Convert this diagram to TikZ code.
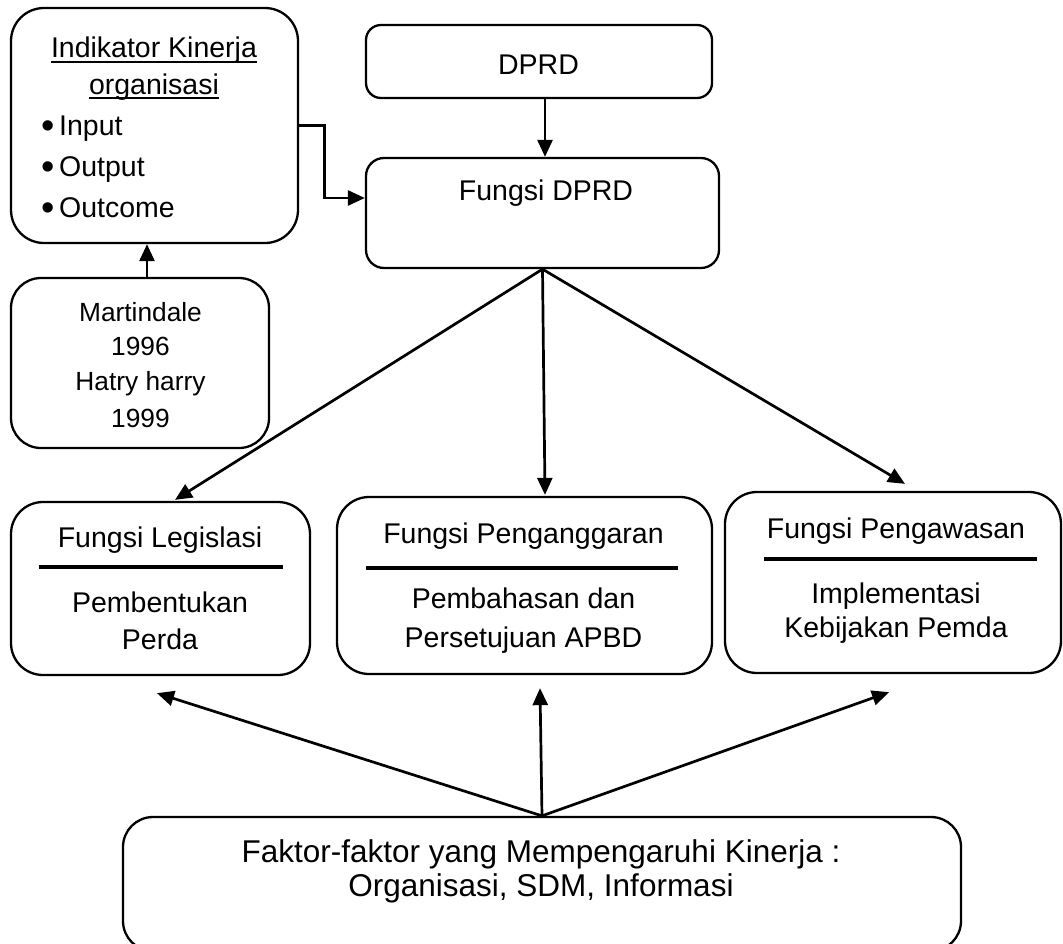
\documentclass[tikz,border=0pt]{standalone}
\usepackage{fontspec}
\setmainfont{Liberation Sans}
\usetikzlibrary{arrows.meta,calc}
\tikzset{
  box/.style={draw, line width=2.3pt, rectangle, inner sep=0pt},
  txt/.style={inner sep=0pt, anchor=base, font=\fontsize{28.5}{34}\selectfont},
  stxt/.style={inner sep=0pt, anchor=base, font=\fontsize{26.3}{32}\selectfont},
  btxt/.style={inner sep=0pt, anchor=base, font=\fontsize{31.5}{38}\selectfont},
  bul/.style={inner sep=0pt, anchor=base, font=\fontsize{38}{40}\selectfont},
  arr/.style={line width=2.7pt, -{Triangle[length=17pt,width=15pt]}},
  sepline/.style={line width=4.5pt},
  uline/.style={line width=2.2pt}
}
\begin{document}
\begin{tikzpicture}[x=1pt, y=-1pt]
\useasboundingbox (0,0) rectangle (1063,943);

% boxes
\node[box, rounded corners=33pt, minimum width=287pt, minimum height=235pt] (ind) at (154.5,125.5) {};
\node[box, rounded corners=30pt, minimum width=258pt, minimum height=170pt] (mart) at (140,363) {};
\node[box, rounded corners=15pt, minimum width=346pt, minimum height=73pt] (dprd) at (539,61.5) {};
\node[box, rounded corners=18pt, minimum width=353pt, minimum height=110pt] (fdprd) at (542.5,213) {};
\node[box, rounded corners=32pt, minimum width=299pt, minimum height=173pt] (leg) at (160.5,588.5) {};
\node[box, rounded corners=32pt, minimum width=375pt, minimum height=177pt] (ang) at (524.5,585.5) {};
\node[box, rounded corners=32pt, minimum width=336pt, minimum height=181pt] (awas) at (893,582.5) {};
\node[box, rounded corners=30pt, minimum width=838pt, minimum height=134pt] (fak) at (542,884) {};

% texts: Indikator
\node[txt] (t1) at (154,57) {Indikator Kinerja};
\node[txt] (t2) at (154,94) {organisasi};
\draw[uline] ([yshift=-5pt]t1.base west) -- ([yshift=-5pt]t1.base east);
\draw[uline] ([yshift=-4pt]t2.base west) -- ([yshift=-4pt]t2.base east);
\node[bul] (b1) at (48,138) {\textbullet};
\node[bul] (b2) at (48,179) {\textbullet};
\node[bul] (b3) at (48,220) {\textbullet};
\node[txt, anchor=base west] (i1) at (59,135) {Input};
\node[txt, anchor=base west] (i2) at (59,176) {Output};
\node[txt, anchor=base west] (i3) at (59,217) {Outcome};

% Martindale
\node[stxt] (m1) at (140.5,321) {Martindale};
\node[stxt] (m2) at (140.5,355) {1996};
\node[stxt] (m3) at (140.5,390) {Hatry harry};
\node[stxt] (m4) at (140.5,427) {1999};

% DPRD
\node[txt] (d1) at (538.5,74) {DPRD};
\node[txt] (d2) at (546,200) {Fungsi DPRD};

% Legislasi
\node[txt] (l1) at (160,547) {Fungsi Legislasi};
\draw[sepline] (39,567) -- (283,567);
\node[txt] (l2) at (160,612) {Pembentukan};
\node[txt] (l3) at (160,649) {Perda};

% Penganggaran
\node[txt] (a1) at (523.5,543) {Fungsi Penganggaran};
\draw[sepline] (366,568) -- (678,568);
\node[txt] (a2) at (523.5,608) {Pembahasan dan};
\node[txt] (a3) at (523.5,647) {Persetujuan APBD};

% Pengawasan
\node[txt] (w1) at (896,538) {Fungsi Pengawasan};
\draw[sepline] (764,559) -- (1037,559);
\node[txt] (w2) at (896,603) {Implementasi};
\node[txt] (w3) at (896,637) {Kebijakan Pemda};

% Faktor
\node[btxt] (f1) at (541,862) {Faktor-faktor yang Mempengaruhi Kinerja :};
\node[btxt] (f2) at (541,896) {Organisasi, SDM, Informasi};

% connectors
\draw[arr] (ind.east) -- ++(25,0) |- ([yshift=15pt]fdprd.west);
\draw[arr] ([xshift=7pt]mart.north) -- ([xshift=7pt]mart.north |- ind.south);
\draw[arr] ([xshift=6pt]dprd.south) -- ([xshift=6pt]dprd.south |- fdprd.north);

\draw[arr] (fdprd.south) -- ([xshift=14.5pt,yshift=1pt]leg.north);
\draw[arr] (fdprd.south) -- ([xshift=20.5pt,yshift=1pt]ang.north);
\draw[arr] (fdprd.south) -- ([xshift=12pt,yshift=7pt]awas.north);

\draw[arr] (fak.north) -- ([xshift=-3.5pt,yshift=-17pt]leg.south);
\draw[arr] (fak.north) -- ([xshift=15.5pt,yshift=-13pt]ang.south);
\draw[arr] (fak.north) -- ([xshift=-4pt,yshift=-18pt]awas.south);
\end{tikzpicture}
\end{document}
